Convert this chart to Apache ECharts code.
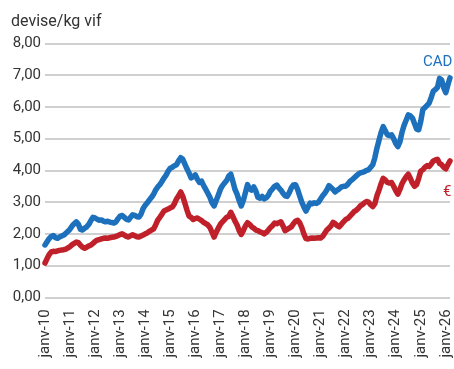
<!DOCTYPE html>
<html>
<head>
<meta charset="utf-8">
<script src="https://cdn.jsdelivr.net/npm/echarts@6/dist/echarts.min.js"></script>
<style>
  html, body { margin: 0; padding: 0; background: #ffffff; }
  #chart { width: 454px; height: 369px; }
</style>
</head>
<body>
<div id="chart"></div>
<script>
// Monthly price per kg live weight, January 2010 to March 2026
const firstYear = 2010;
const monthNames = ['janv', 'févr', 'mars', 'avr', 'mai', 'juin', 'juil', 'août', 'sept', 'oct', 'nov', 'déc'];
const yTicks = [0, 1, 2, 3, 4, 5, 6, 7, 8];

// Price in Canadian dollars
const cad = [
  1.65, 1.75, 1.85, 1.92, 1.95, 1.88, 1.86, 1.90, 1.93, 1.96, 2.02, 2.08,
  2.15, 2.25, 2.32, 2.38, 2.30, 2.14, 2.12, 2.18, 2.22, 2.30, 2.42, 2.52,
  2.50, 2.46, 2.43, 2.44, 2.40, 2.38, 2.40, 2.37, 2.36, 2.34, 2.38, 2.48,
  2.56, 2.58, 2.52, 2.46, 2.44, 2.52, 2.60, 2.58, 2.54, 2.53, 2.62, 2.80,
  2.90, 2.98, 3.07, 3.15, 3.25, 3.38, 3.48, 3.55, 3.65, 3.76, 3.85, 3.98,
  4.07, 4.10, 4.15, 4.18, 4.30, 4.40, 4.35, 4.20, 4.05, 3.92, 3.76, 3.80,
  3.86, 3.72, 3.62, 3.66, 3.52, 3.40, 3.28, 3.15, 2.98, 2.88, 3.05, 3.22,
  3.40, 3.52, 3.60, 3.68, 3.82, 3.88, 3.65, 3.40, 3.25, 3.05, 2.88, 3.05,
  3.30, 3.55, 3.42, 3.38, 3.48, 3.35, 3.15, 3.12, 3.18, 3.10, 3.14, 3.22,
  3.35, 3.42, 3.50, 3.54, 3.45, 3.38, 3.28, 3.20, 3.18, 3.30, 3.45, 3.54,
  3.55, 3.40, 3.20, 3.00, 2.85, 2.72, 2.85, 2.97, 2.95, 2.98, 2.96, 3.00,
  3.10, 3.20, 3.28, 3.38, 3.52, 3.46, 3.40, 3.32, 3.38, 3.42, 3.48, 3.50,
  3.50, 3.56, 3.65, 3.70, 3.76, 3.82, 3.88, 3.92, 3.94, 3.96, 4.00, 4.02,
  4.10, 4.18, 4.40, 4.70, 4.95, 5.20, 5.38, 5.25, 5.12, 5.10, 5.12, 5.00,
  4.85, 4.75, 4.90, 5.20, 5.42, 5.58, 5.75, 5.72, 5.65, 5.48, 5.30, 5.28,
  5.55, 5.92, 5.98, 6.05, 6.12, 6.30, 6.50, 6.55, 6.62, 6.90, 6.85, 6.60,
  6.45, 6.70, 6.92
];

// Price in euros
const eur = [
  1.08, 1.22, 1.35, 1.43, 1.45, 1.44, 1.46, 1.48, 1.49, 1.50, 1.52, 1.56,
  1.60, 1.66, 1.70, 1.74, 1.72, 1.64, 1.58, 1.55, 1.58, 1.62, 1.65, 1.70,
  1.76, 1.80, 1.82, 1.84, 1.86, 1.87, 1.86, 1.88, 1.89, 1.90, 1.92, 1.95,
  1.98, 2.00, 1.96, 1.92, 1.90, 1.94, 1.97, 1.94, 1.91, 1.90, 1.93, 1.96,
  2.00, 2.03, 2.08, 2.12, 2.15, 2.28, 2.43, 2.52, 2.62, 2.72, 2.75, 2.78,
  2.82, 2.85, 2.95, 3.10, 3.20, 3.32, 3.18, 2.97, 2.75, 2.56, 2.52, 2.45,
  2.48, 2.50, 2.46, 2.42, 2.36, 2.32, 2.28, 2.20, 2.05, 1.90, 2.05, 2.18,
  2.30, 2.38, 2.45, 2.52, 2.55, 2.68, 2.55, 2.40, 2.28, 2.10, 1.98, 2.10,
  2.25, 2.35, 2.30, 2.22, 2.18, 2.12, 2.10, 2.06, 2.04, 2.00, 2.05, 2.12,
  2.20, 2.26, 2.34, 2.32, 2.35, 2.38, 2.25, 2.10, 2.14, 2.18, 2.22, 2.32,
  2.40, 2.43, 2.35, 2.20, 2.00, 1.85, 1.84, 1.86, 1.87, 1.86, 1.87, 1.88,
  1.87, 1.92, 2.02, 2.12, 2.18, 2.25, 2.36, 2.32, 2.26, 2.22, 2.30, 2.38,
  2.45, 2.48, 2.55, 2.62, 2.70, 2.74, 2.80, 2.88, 2.92, 2.98, 3.02, 3.00,
  2.92, 2.86, 2.95, 3.20, 3.38, 3.58, 3.75, 3.70, 3.62, 3.60, 3.62, 3.50,
  3.36, 3.25, 3.40, 3.58, 3.70, 3.80, 3.88, 3.75, 3.60, 3.50, 3.55, 3.75,
  3.98, 4.02, 4.10, 4.15, 4.12, 4.20, 4.30, 4.33, 4.35, 4.22, 4.18, 4.10,
  4.05, 4.18, 4.30
];

const BLUE = '#1d70bb';
const RED = '#c0202a';
const FONT = 'Roboto, "Liberation Sans", sans-serif';

// Category labels "janv-10", "févr-10", ...
const months = cad.map((_, i) => {
  const y = firstYear + Math.floor(i / 12);
  return monthNames[i % 12] + '-' + String(y % 100).padStart(2, '0');
});

const chart = echarts.init(document.getElementById('chart'), null, { renderer: 'canvas' });

chart.setOption({
  animation: false,
  backgroundColor: '#ffffff',
  textStyle: { fontFamily: FONT },
  title: {
    text: 'devise/kg vif',
    left: 6,
    top: 9,
    textStyle: { fontFamily: FONT, fontSize: 16, fontWeight: 'normal', color: '#333333' }
  },
  grid: { left: 45, right: 4, top: 43.5, bottom: 71.7, containLabel: false },
  xAxis: {
    type: 'category',
    data: months,
    boundaryGap: false,
    axisLine: { show: false },
    axisTick: { show: false },
    splitLine: { show: false },
    axisLabel: {
      interval: 11,
      rotate: 90,
      margin: 12,
      fontSize: 15,
      fontFamily: FONT,
      color: '#333333'
    }
  },
  yAxis: {
    type: 'value',
    min: yTicks[0],
    max: yTicks[yTicks.length - 1],
    interval: 1,
    axisLine: { show: false },
    axisTick: { show: false },
    splitLine: { lineStyle: { color: '#d0d0d0', width: 2 } },
    axisLabel: {
      margin: 4,
      fontSize: 15,
      fontFamily: FONT,
      color: '#333333',
      formatter: v => v.toFixed(2).replace('.', ',')
    }
  },
  series: [
    {
      name: 'CAD',
      type: 'line',
      data: cad,
      showSymbol: false,
      smooth: false,
      lineStyle: { color: BLUE, width: 5.5, cap: 'round', join: 'round' },
      endLabel: {
        show: true,
        formatter: 'CAD',
        color: BLUE,
        fontSize: 15,
        fontFamily: FONT,
        offset: [-35, -16]
      }
    },
    {
      name: '€',
      type: 'line',
      data: eur,
      showSymbol: false,
      smooth: false,
      lineStyle: { color: RED, width: 5.5, cap: 'round', join: 'round' },
      endLabel: {
        show: true,
        formatter: '€',
        color: RED,
        fontSize: 15,
        fontFamily: FONT,
        offset: [-15, 31]
      }
    }
  ]
});
</script>
</body>
</html>
